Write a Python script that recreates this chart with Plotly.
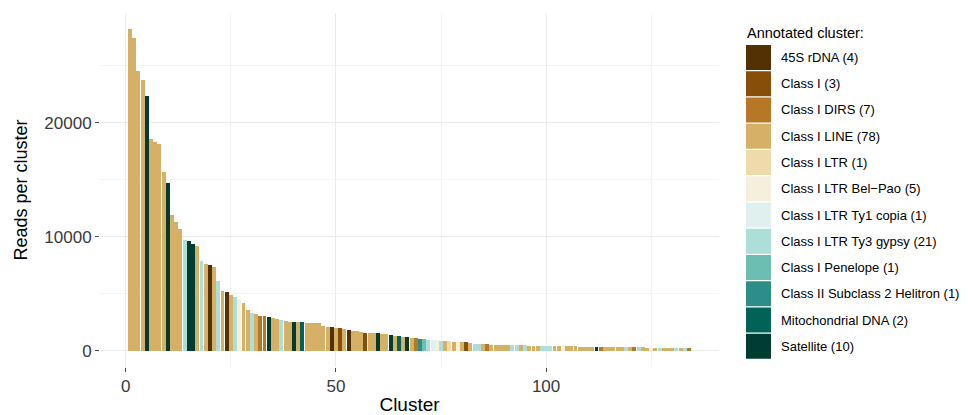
import plotly.graph_objects as go

# ---------------- data ----------------
categories = ["45S rDNA", "Class I", "Class I DIRS", "Class I LINE", "Class I LTR",
              "Class I LTR Bel\u2212Pao", "Class I LTR Ty1 copia", "Class I LTR Ty3 gypsy",
              "Class I Penelope", "Class II Subclass 2 Helitron", "Mitochondrial DNA", "Satellite"]
category_codes = ["R", "C1", "D", "L", "T", "B", "Y1", "Y3", "P", "H", "M", "S"]
category_counts = [4, 3, 7, 78, 1, 5, 1, 21, 1, 1, 2, 10]
category_colors = ["#543005", "#874e0a", "#b67827", "#d6b067", "#eedaaa", "#f5efde",
                   "#e0f0ee", "#addfd8", "#6cbeb3", "#2c8e86", "#01625a", "#003c30"]

cluster_class = [
    "L", "L", "L", "L", "S", "L", "L", "L", "L", "S",
    "L", "L", "L", "Y3", "S", "S", "L", "Y3", "L", "R",
    "L", "Y3", "L", "R", "L", "Y3", "B", "L", "L", "Y3",
    "L", "D", "D", "S", "L", "L", "Y3", "L", "L", "S",
    "L", "M", "L", "L", "L", "L", "L", "L", "R", "L",
    "C1", "L", "R", "L", "L", "L", "C1", "L", "L", "S",
    "L", "L", "S", "L", "M", "L", "S", "L", "D", "H",
    "P", "Y3", "Y1", "B", "Y3", "L", "T", "L", "B", "L",
    "C1", "L", "Y3", "Y3", "L", "D", "L", "L", "L", "L",
    "L", "Y3", "Y3", "L", "Y3", "L", "L", "L", "Y3", "Y3",
    "Y3", "L", "L", "B", "L", "L", "L", "L", "L", "L",
    "L", "S", "D", "L", "L", "L", "L", "L", "Y3", "L",
    "D", "Y3", "L", "L", "B", "L", "Y3", "L", "L", "L",
    "Y3", "L", "Y3", "D",
]

reads = [
    28200, 27450, 24500, 23700, 22300, 18600, 18300, 18150, 15650, 14700,
    11950, 11300, 10650, 9750, 9600, 9400, 9200, 7860, 7600, 7570,
    7380, 6100, 5250, 5200, 4900, 4700, 4520, 4230, 3600, 3320,
    3220, 3100, 3020, 2950, 2860, 2760, 2680, 2580, 2560, 2520,
    2500, 2490, 2480, 2470, 2460, 2440, 2150, 2110, 2080, 2050,
    2000, 1960, 1800, 1780, 1760, 1620, 1590, 1560, 1540, 1530,
    1480, 1450, 1420, 1300, 1280, 1260, 1250, 1120, 1100, 1080,
    1020, 1000, 960, 940, 900, 860, 830, 800, 780, 760,
    740, 720, 640, 620, 600, 580, 560, 545, 530, 520,
    512, 505, 497, 490, 482, 472, 465, 458, 452, 447,
    441, 432, 423, 412, 404, 398, 391, 386, 381, 376,
    370, 366, 360, 352, 343, 337, 331, 326, 321, 316,
    311, 306, 301, 296, 292, 287, 282, 277, 272, 267,
    262, 257, 251, 246,
]

clusters = list(range(1, len(reads) + 1))

x_ticks = [0, 50, 100]
x_tick_labels = ["0", "50", "100"]
y_ticks = [0, 10000, 20000]
y_tick_labels = ["0", "10000", "20000"]

for code, n in zip(category_codes, category_counts):
    assert cluster_class.count(code) == n, (code, cluster_class.count(code), n)
assert len(cluster_class) == len(reads)

# ---------------- layout geometry ----------------
# The page body has an 8px default margin, so the figure is drawn 8px smaller
# and all page-pixel positions are shifted by OFF.
OFF = 8
PAGE_W, PAGE_H = 968, 415
W, H = PAGE_W - OFF, PAGE_H - OFF
PL, PR, PT, PB = 100 - OFF, 719 - OFF, 13 - OFF, 367 - OFF  # panel edges (figure px)


def px_x(page_px):
    return (page_px - OFF - PL) / (PR - PL)


def px_y(page_py):
    return (PB - (page_py - OFF)) / (PB - PT)


FONT = "Liberation Sans, Arial, Helvetica, sans-serif"

fig = go.Figure()
for code, name, col in zip(category_codes, categories, category_colors):
    xs = [c for c, k in zip(clusters, cluster_class) if k == code]
    ys = [v for v, k in zip(reads, cluster_class) if k == code]
    fig.add_trace(go.Bar(x=xs, y=ys, name=name, width=0.94,
                         marker=dict(color=col, line=dict(width=0)),
                         opacity=1, showlegend=False))

ymax = max(reads)
xr = [0.55 - 0.05 * 133.9, 134.45 + 0.05 * 133.9]
yr = [-0.05 * ymax, ymax * 1.05]

fig.update_layout(
    width=W, height=H,
    barmode="overlay",
    bargap=0,
    plot_bgcolor="white", paper_bgcolor="white",
    margin=dict(l=PL, r=W - PR, t=PT, b=H - PB, pad=0, autoexpand=False),
    font=dict(family=FONT, color="#000000"),
    showlegend=False,
    xaxis=dict(
        range=xr, tickvals=x_ticks, ticktext=x_tick_labels, automargin=False,
        ticks="outside", ticklen=4, tickwidth=1, tickcolor="#4d4d4d",
        tickfont=dict(size=17, color="#3a3a3a"),
        showgrid=True, gridcolor="#ebebeb", gridwidth=1,
        minor=dict(tickvals=[25, 75, 125], showgrid=True, gridcolor="#f4f4f4", gridwidth=1, ticks=""),
        zeroline=False, showline=False,
        title=dict(text="Cluster", font=dict(size=19), standoff=4),
    ),
    yaxis=dict(
        range=yr, tickvals=y_ticks, ticktext=y_tick_labels, automargin=False,
        ticks="outside", ticklen=4, tickwidth=1, tickcolor="#4d4d4d",
        tickfont=dict(size=17, color="#3a3a3a"),
        showgrid=True, gridcolor="#ebebeb", gridwidth=1,
        minor=dict(tickvals=[5000, 15000, 25000], showgrid=True, gridcolor="#f4f4f4", gridwidth=1, ticks=""),
        zeroline=False, showline=False,
        title=dict(text="Reads per cluster", font=dict(size=18), standoff=12),
    ),
)

# ---------------- custom legend (large key swatches like ggplot) ----------------
shapes = []
annotations = [dict(text="Annotated cluster:", xref="paper", yref="paper",
                    x=px_x(745), y=px_y(33), xanchor="left", yanchor="middle",
                    showarrow=False, font=dict(size=14.5, color="#000000", family=FONT))]
key_top, key_h = 45, 26.25
for i, (name, n, col) in enumerate(zip(categories, category_counts, category_colors)):
    top = key_top + i * key_h
    shapes.append(dict(type="rect", xref="paper", yref="paper",
                       x0=px_x(746), x1=px_x(771), y0=px_y(top + 25), y1=px_y(top),
                       fillcolor=col, line=dict(width=0)))
    annotations.append(dict(text=f"{name} ({n})", xref="paper", yref="paper",
                            x=px_x(779), y=px_y(top + 12.5), xanchor="left", yanchor="middle",
                            showarrow=False, font=dict(size=13, color="#000000", family=FONT)))
fig.update_layout(shapes=shapes, annotations=annotations)

fig.write_html("out.html")
